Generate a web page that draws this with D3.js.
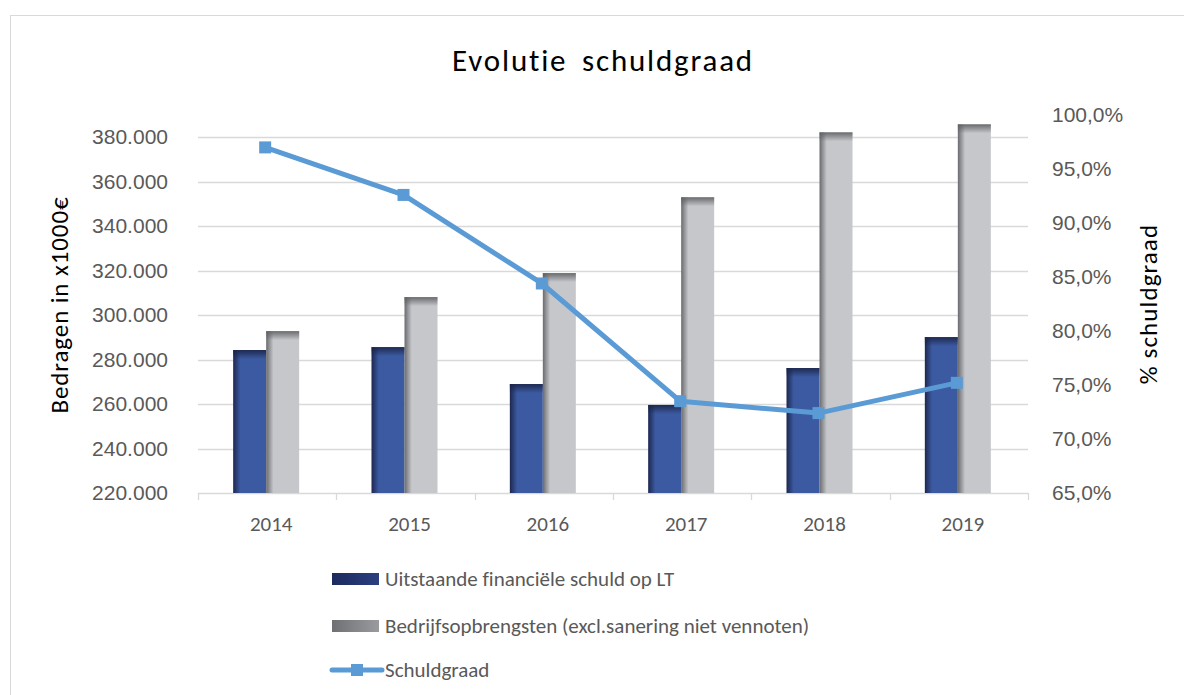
<!DOCTYPE html>
<html>
<head>
<meta charset="utf-8">
<script src="https://cdn.jsdelivr.net/npm/d3@7"></script>
<style>
  body { margin: 0; background: #fff; }
  svg { font-family: Carlito, Calibri, Lato, sans-serif; font-variant-ligatures: none; }
</style>
</head>
<body>
<div class="canvas"></div>
<script>
// data
const years = ['2014', '2015', '2016', '2017', '2018', '2019'];
const schuld = [284300, 285600, 269000, 259600, 276200, 290100];
const opbrengsten = [292800, 308100, 318900, 353000, 382200, 385800];
const schuldgraad = [97.0, 92.6, 84.4, 73.5, 72.4, 75.2];
const leftTicks = [220000, 240000, 260000, 280000, 300000, 320000, 340000, 360000, 380000];
const rightTicks = [65, 70, 75, 80, 85, 90, 95, 100];
const seriesNames = ['Uitstaande financiële schuld op LT', 'Bedrijfsopbrengsten (excl.sanering niet vennoten)', 'Schuldgraad'];

const width = 1184, height = 695;
const svg = d3.select('.canvas')
  .append('svg')
  .attr('width', width)
  .attr('height', height);

// chart border
svg.append('rect')
  .attr('x', 10.5).attr('y', 15.5)
  .attr('width', 1200).attr('height', 700)
  .attr('fill', 'none').attr('stroke', '#d9d9d9');

const margin = { top: 115, left: 198, right: 156, bottom: 202 };
const graphWidth = width - margin.left - margin.right;
const graphHeight = height - margin.top - margin.bottom;

const graph = svg.append('g')
  .attr('transform', `translate(${margin.left}, ${margin.top})`);

// gradients
const defs = svg.append('defs');
function hGrad(id, dark, main) {
  const g = defs.append('linearGradient').attr('id', id)
    .attr('x1', 0).attr('x2', 1).attr('y1', 0).attr('y2', 0);
  g.append('stop').attr('offset', '0%').attr('stop-color', dark);
  g.append('stop').attr('offset', '22%').attr('stop-color', main);
  g.append('stop').attr('offset', '100%').attr('stop-color', main);
}
hGrad('blueGrad', '#1c2750', '#3c5aa1');
hGrad('grayGrad', '#6a6b6e', '#c6c7cb');
function vGrad(id, dark) {
  const g = defs.append('linearGradient').attr('id', id)
    .attr('x1', 0).attr('x2', 0).attr('y1', 0).attr('y2', 1);
  g.append('stop').attr('offset', '0%').attr('stop-color', dark).attr('stop-opacity', 0.9);
  g.append('stop').attr('offset', '100%').attr('stop-color', dark).attr('stop-opacity', 0);
}
vGrad('blueTop', '#1a2448');
vGrad('grayTop', '#5f6063');
const legGrad = (id, a, b) => {
  const g = defs.append('linearGradient').attr('id', id)
    .attr('x1', 0).attr('x2', 1).attr('y1', 0).attr('y2', 0);
  g.append('stop').attr('offset', '0%').attr('stop-color', a);
  g.append('stop').attr('offset', '100%').attr('stop-color', b);
};
legGrad('blueLeg', '#1c2a5e', '#2c3f7e');
legGrad('grayLeg', '#6f7073', '#9a9b9e');

// scales
const y = d3.scaleLinear().domain([220000, 390000]).range([graphHeight, 0]);
const y2 = d3.scaleLinear().domain([65, 100]).range([graphHeight, 0]);
const x = d3.scaleBand().domain(years).range([0, graphWidth]);
const barW = 33;
const x1 = d3.scaleBand().domain(['schuld', 'opbr'])
  .range([x.bandwidth() / 2 - barW - 1, x.bandwidth() / 2 + barW - 1]);

// gridlines
graph.append('g')
  .selectAll('line')
  .data(leftTicks.slice(1))
  .enter().append('line')
  .attr('x1', 0).attr('x2', graphWidth)
  .attr('y1', d => Math.round(y(d)) + 0.5).attr('y2', d => Math.round(y(d)) + 0.5)
  .attr('stroke', '#d9d9d9').attr('stroke-width', 1.3);

// axes
const fmtLeft = d => d3.format(',')(d).replace(/,/g, '.');
const yAxis = d3.axisLeft(y).tickValues(leftTicks).tickFormat(fmtLeft).tickSize(0).tickPadding(30);
const yAxisGroup = graph.append('g').call(yAxis);
yAxisGroup.select('.domain').remove();
yAxisGroup.selectAll('text').attr('font-size', 21).attr('fill', '#595959');

const y2Axis = d3.axisRight(y2).tickValues(rightTicks)
  .tickFormat(d => d3.format('.1f')(d).replace('.', ',') + '%').tickSize(0).tickPadding(24);
const y2AxisGroup = graph.append('g').attr('transform', `translate(${graphWidth}, 0)`).call(y2Axis);
y2AxisGroup.select('.domain').remove();
y2AxisGroup.selectAll('text').attr('font-size', 21).attr('fill', '#595959');

const xAxisGroup = graph.append('g').attr('transform', `translate(0, ${graphHeight})`);
xAxisGroup.append('line')
  .attr('x1', 0).attr('x2', graphWidth).attr('y1', 0.5).attr('y2', 0.5)
  .attr('stroke', '#d9d9d9').attr('stroke-width', 1.3);
xAxisGroup.selectAll('.tickmark')
  .data(d3.range(years.length + 1))
  .enter().append('line')
  .attr('class', 'tickmark')
  .attr('x1', i => Math.round(i * x.step()) + 0.5).attr('x2', i => Math.round(i * x.step()) + 0.5)
  .attr('y1', 0).attr('y2', 7)
  .attr('stroke', '#d9d9d9').attr('stroke-width', 1.3);
xAxisGroup.selectAll('.xlabel')
  .data(years)
  .enter().append('text')
  .attr('x', d => x(d) + x.bandwidth() / 2 + 4)
  .attr('y', 38)
  .attr('text-anchor', 'middle')
  .attr('font-size', 21).attr('fill', '#595959')
  .text(d => d);

// bars
const barData = years.map((yr, i) => ({ yr, schuld: schuld[i], opbr: opbrengsten[i] }));
const groups = graph.selectAll('.bargroup')
  .data(barData)
  .enter().append('g')
  .attr('transform', d => `translate(${x(d.yr)}, 0)`);

[['schuld', 'blueGrad', 'blueTop'], ['opbr', 'grayGrad', 'grayTop']].forEach(([key, fill, top]) => {
  groups.append('rect')
    .attr('x', x1(key)).attr('width', barW)
    .attr('y', d => y(d[key])).attr('height', d => graphHeight - y(d[key]))
    .attr('fill', `url(#${fill})`);
  groups.append('rect')
    .attr('x', x1(key)).attr('width', barW)
    .attr('y', d => y(d[key])).attr('height', 9)
    .attr('fill', `url(#${top})`);
});

// line
const lineData = years.map((yr, i) => ({ yr, v: schuldgraad[i] }));
const lx = d => x(d.yr) + x.bandwidth() / 2 - 2;
graph.append('path')
  .datum(lineData)
  .attr('d', d3.line().x(lx).y(d => y2(d.v)))
  .attr('fill', 'none').attr('stroke', '#5b9bd5')
  .attr('stroke-width', 5).attr('stroke-linejoin', 'round');
graph.selectAll('.marker')
  .data(lineData)
  .enter().append('rect')
  .attr('class', 'marker')
  .attr('x', d => lx(d) - 6).attr('y', d => y2(d.v) - 6)
  .attr('width', 12).attr('height', 12)
  .attr('fill', '#5b9bd5');

// titles
svg.append('text')
  .attr('x', 603).attr('y', 71)
  .attr('text-anchor', 'middle')
  .attr('font-size', 31).attr('letter-spacing', 1.8).attr('word-spacing', 6)
  .attr('fill', '#000')
  .text('Evolutie schuldgraad');

svg.append('text')
  .attr('transform', 'translate(68, 305) rotate(-90)')
  .attr('text-anchor', 'middle')
  .attr('font-size', 25).attr('letter-spacing', 0.9)
  .attr('fill', '#000')
  .text('Bedragen in x1000€');

svg.append('text')
  .attr('transform', 'translate(1157, 304) rotate(-90)')
  .attr('text-anchor', 'middle')
  .attr('font-size', 25).attr('letter-spacing', 1.1)
  .attr('fill', '#000')
  .text('% schuldgraad');

// legend
const legend = svg.append('g').attr('transform', 'translate(332, 0)');
const legendY = [579, 626, 670];
legend.append('rect').attr('x', 0).attr('y', legendY[0] - 6).attr('width', 47).attr('height', 12).attr('fill', 'url(#blueLeg)');
legend.append('rect').attr('x', 0).attr('y', legendY[1] - 6).attr('width', 47).attr('height', 12).attr('fill', 'url(#grayLeg)');
legend.append('line').attr('x1', 0).attr('x2', 50).attr('y1', legendY[2]).attr('y2', legendY[2])
  .attr('stroke', '#5b9bd5').attr('stroke-width', 5).attr('stroke-linecap', 'round');
legend.append('rect').attr('x', 19).attr('y', legendY[2] - 6).attr('width', 12).attr('height', 12).attr('fill', '#5b9bd5');
legend.selectAll('.legtext')
  .data(seriesNames)
  .enter().append('text')
  .attr('x', 53)
  .attr('y', (d, i) => legendY[i])
  .attr('dy', '0.35em')
  .attr('font-size', 21).attr('fill', '#595959')
  .text(d => d);
</script>
</body>
</html>
